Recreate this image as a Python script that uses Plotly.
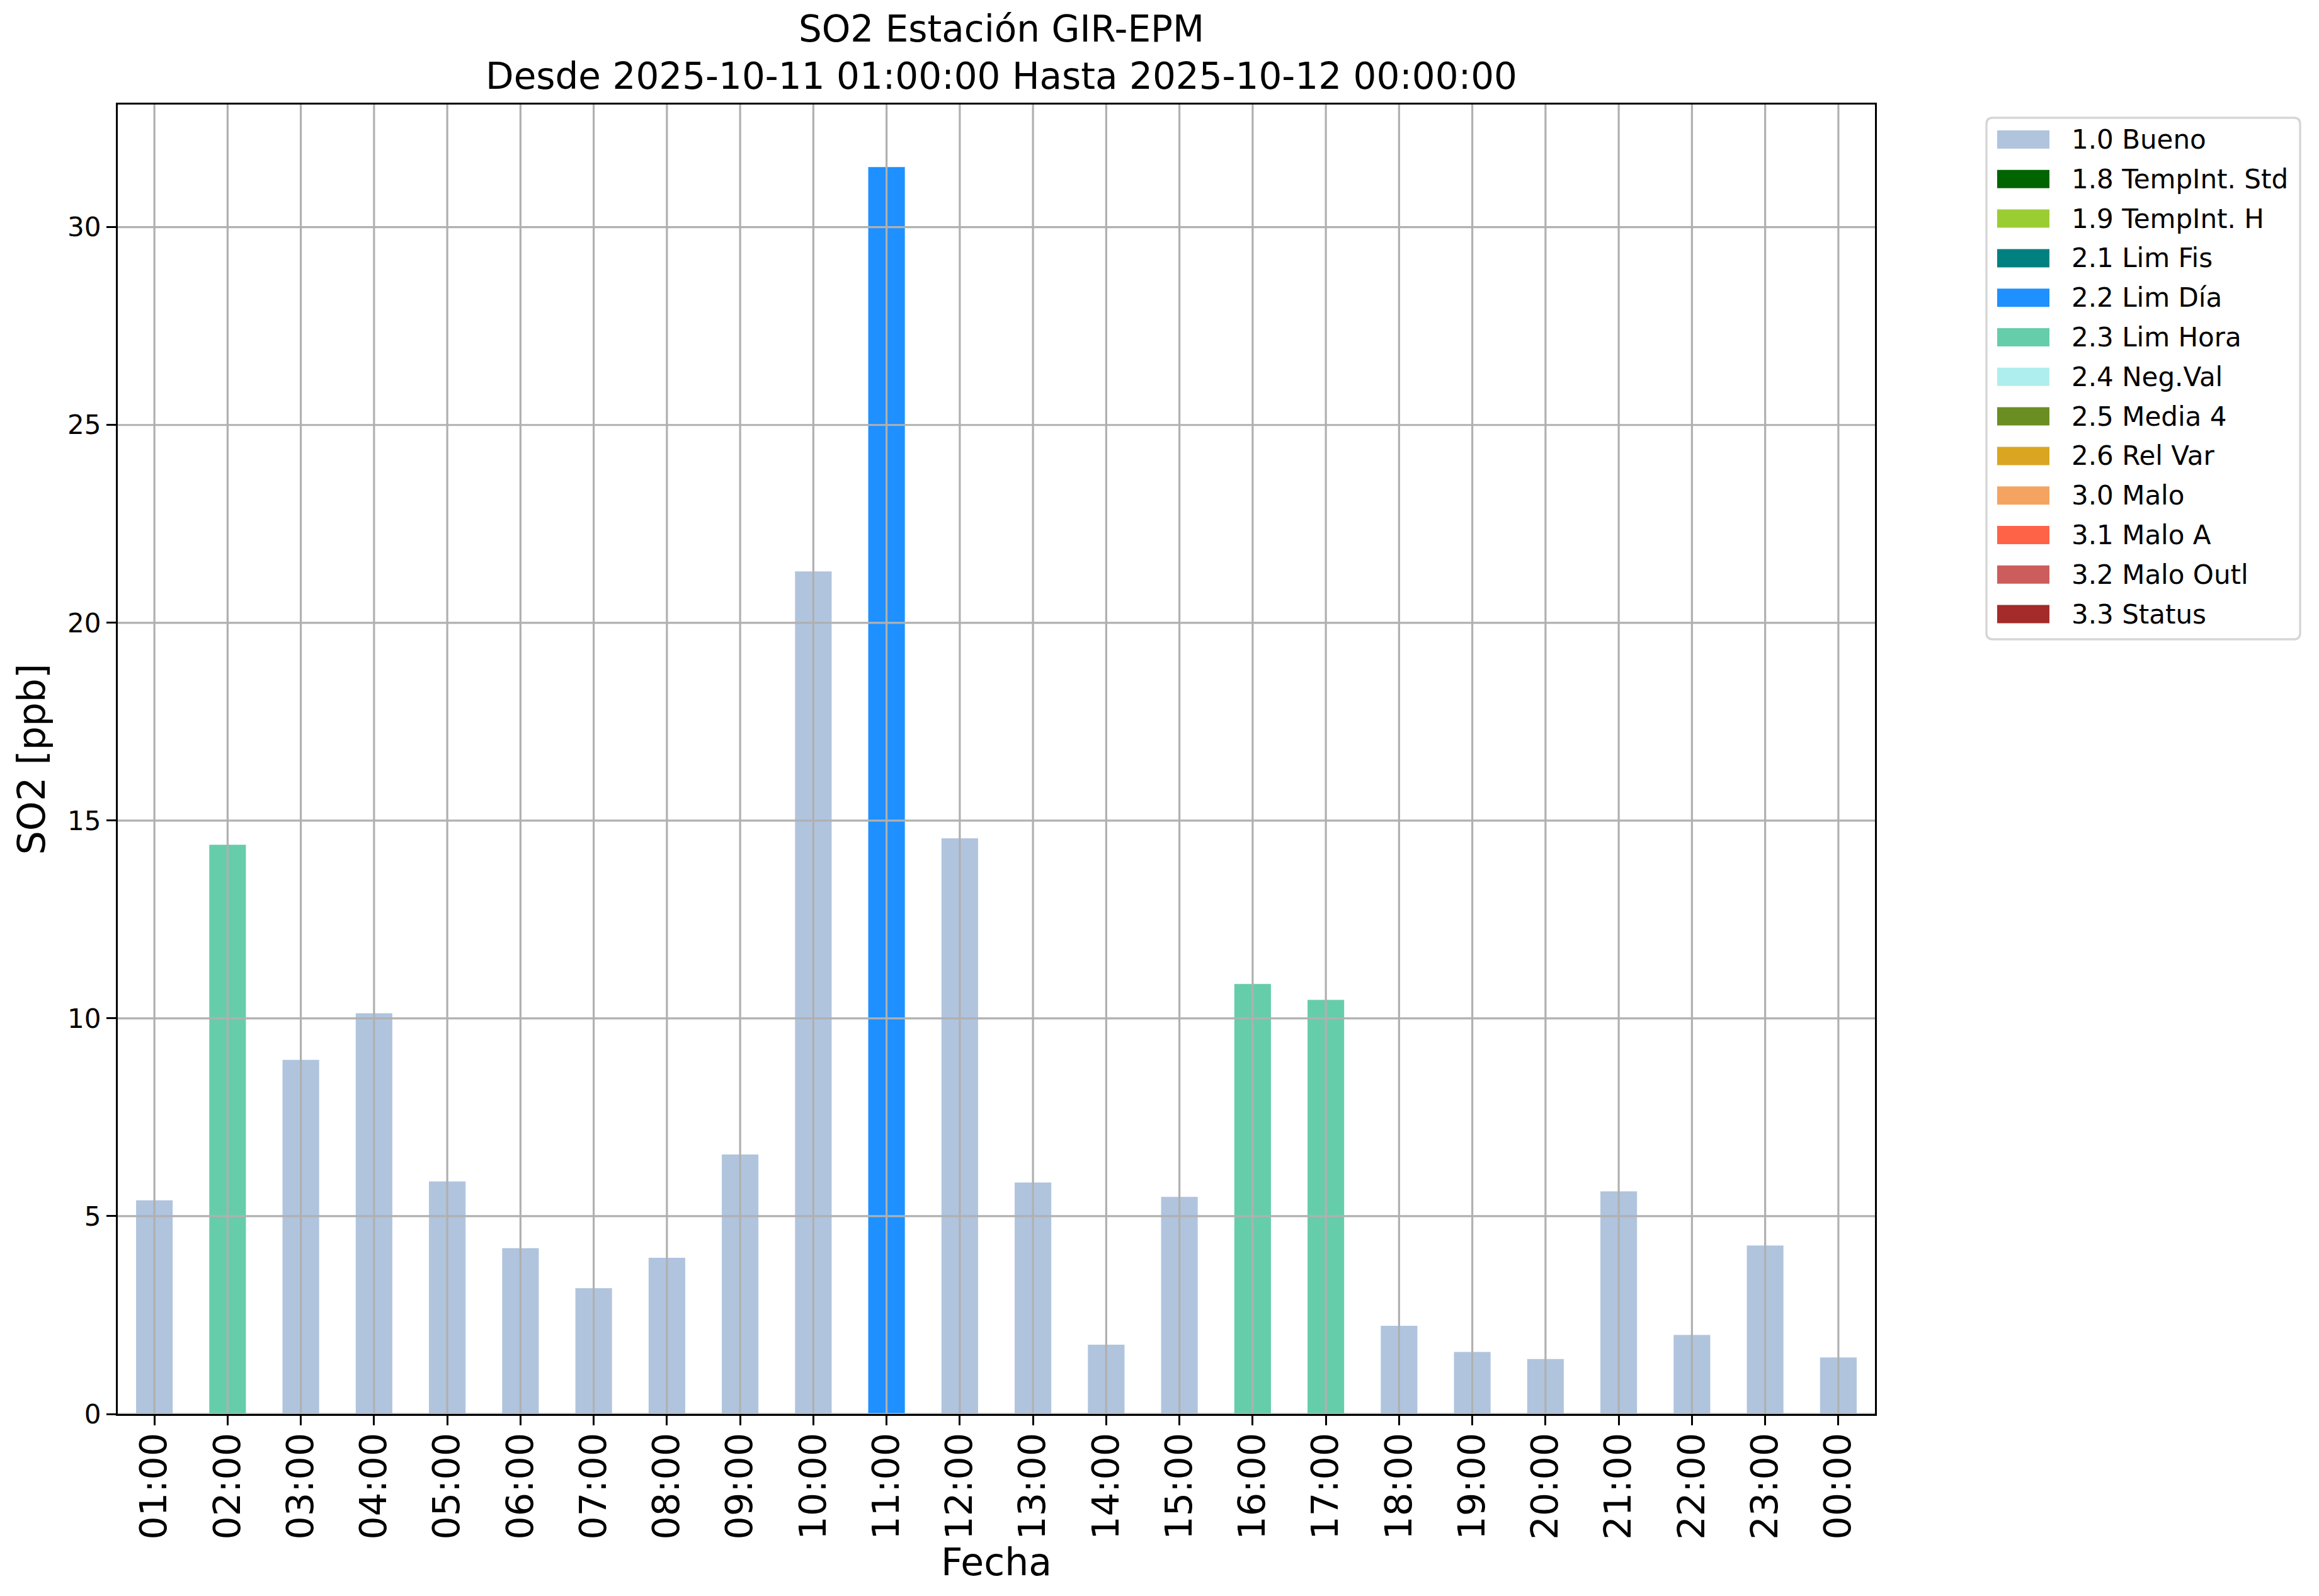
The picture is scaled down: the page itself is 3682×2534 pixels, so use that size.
import plotly.graph_objects as go

# ---------------- data ----------------
hours = ["01:00", "02:00", "03:00", "04:00", "05:00", "06:00", "07:00", "08:00",
         "09:00", "10:00", "11:00", "12:00", "13:00", "14:00", "15:00", "16:00",
         "17:00", "18:00", "19:00", "20:00", "21:00", "22:00", "23:00", "00:00"]
so2_values = [5.40, 14.39, 8.95, 10.13, 5.88, 4.19, 3.18, 3.95,
              6.56, 21.30, 31.52, 14.55, 5.85, 1.75, 5.49, 10.87,
              10.47, 2.23, 1.57, 1.39, 5.63, 2.00, 4.26, 1.43]
flags = ["1.0 Bueno", "2.3 Lim Hora", "1.0 Bueno", "1.0 Bueno", "1.0 Bueno", "1.0 Bueno",
         "1.0 Bueno", "1.0 Bueno", "1.0 Bueno", "1.0 Bueno", "2.2 Lim Día", "1.0 Bueno",
         "1.0 Bueno", "1.0 Bueno", "1.0 Bueno", "2.3 Lim Hora", "2.3 Lim Hora", "1.0 Bueno",
         "1.0 Bueno", "1.0 Bueno", "1.0 Bueno", "1.0 Bueno", "1.0 Bueno", "1.0 Bueno"]
categories = ["1.0 Bueno", "1.8 TempInt. Std", "1.9 TempInt. H", "2.1 Lim Fis", "2.2 Lim Día",
              "2.3 Lim Hora", "2.4 Neg.Val", "2.5 Media 4", "2.6 Rel Var", "3.0 Malo",
              "3.1 Malo A", "3.2 Malo Outl", "3.3 Status"]
category_colors = ["#B0C4DE", "#006400", "#9ACD32", "#008080", "#1E90FF",
                   "#66CDAA", "#AFEEEE", "#6B8E23", "#DAA520", "#F4A460",
                   "#FF6347", "#CD5C5C", "#A52A2A"]
y_ticks = [0, 5, 10, 15, 20, 25, 30]

title_text = "SO2 Estación GIR-EPM<br>Desde 2025-10-11 01:00:00 Hasta 2025-10-12 00:00:00"

# ---------------- layout geometry (pixels, screenshot coordinates) ----------------
W, H = 3682, 2534
OFF = 8  # default page body margin
L, R, T, B = 187, 2977, 166, 2245
FONT = "DejaVu Sans"
color_map = dict(zip(categories, category_colors))


def px_x(px):
    return (px - L) / (R - L)


def px_y(py):
    return (B - py) / (B - T)


fig = go.Figure()
fig.add_trace(go.Bar(
    x=hours, y=so2_values,
    marker=dict(color=[color_map[f] for f in flags], line=dict(width=0)),
    width=0.5, showlegend=False,
    customdata=flags,
    hovertemplate="%{x}<br>%{y:.2f} ppb<br>%{customdata}<extra></extra>",
))

shapes = []
# grid lines drawn above the bars (as in the reference)
grid_style = dict(color="#b0b0b0", width=3.2)
for h in hours:
    shapes.append(dict(type="line", xref="x", yref="y domain", x0=h, x1=h, y0=0, y1=1,
                       line=grid_style, layer="above"))
for t in y_ticks:
    shapes.append(dict(type="line", xref="x domain", yref="y", x0=0, x1=1, y0=t, y1=t,
                       line=grid_style, layer="above"))

# legend box (matplotlib-style, rounded frame)
annotations = []
box_l, box_r, box_t, box_b = 3154, 3652, 187, 1015
rad = 10
x0, x1 = px_x(box_l), px_x(box_r)
y0, y1 = px_y(box_b), px_y(box_t)
rx = rad / (R - L)
ry = rad / (B - T)
frame_path = (f"M{x0 + rx},{y0} L{x1 - rx},{y0} Q{x1},{y0} {x1},{y0 + ry} "
              f"L{x1},{y1 - ry} Q{x1},{y1} {x1 - rx},{y1} "
              f"L{x0 + rx},{y1} Q{x0},{y1} {x0},{y1 - ry} "
              f"L{x0},{y0 + ry} Q{x0},{y0} {x0 + rx},{y0} Z")
shapes.append(dict(type="path", xref="paper", yref="paper", path=frame_path,
                   line=dict(color="#d6d6d6", width=3.4), fillcolor="rgba(255,255,255,0.8)",
                   layer="above"))
row0, row_step = 221.5, 62.8
for i, (cat, col) in enumerate(zip(categories, category_colors)):
    cy = row0 + i * row_step
    shapes.append(dict(type="rect", xref="paper", yref="paper",
                       x0=px_x(3171), x1=px_x(3254), y0=px_y(cy + 14.5), y1=px_y(cy - 14.5),
                       line=dict(width=0), fillcolor=col, layer="above"))
    annotations.append(dict(xref="paper", yref="paper", x=px_x(3287), y=px_y(cy),
                            xanchor="left", yanchor="middle", text=cat, showarrow=False,
                            font=dict(family=FONT, size=42, color="black")))

fig.update_layout(
    width=W, height=H,
    margin=dict(l=L - OFF, r=W - (R - OFF), t=T - OFF, b=H - (B - OFF), autoexpand=False),
    paper_bgcolor="white", plot_bgcolor="white",
    font=dict(family=FONT, color="black"),
    title=dict(text=title_text, x=(L + R) / 2 / W, xanchor="center",
               yref="paper", y=1, yanchor="bottom", pad=dict(b=100),
               font=dict(family=FONT, size=58, color="black")),
    bargap=0.5,
    shapes=shapes, annotations=annotations,
    xaxis=dict(
        type="category", range=[-0.5, len(hours) - 0.5],
        showgrid=False, showline=True, linecolor="black", linewidth=3.2, mirror=True,
        ticks="outside", ticklen=15, tickwidth=3.2, tickcolor="black",
        tickangle=-90, tickfont=dict(family=FONT, size=59, color="black"),
        ticklabelstandoff=-12,
        title=dict(text="Fecha", font=dict(family=FONT, size=60, color="black"), standoff=0),
        zeroline=False, automargin=False,
    ),
    yaxis=dict(
        range=[0, 33.1], tickvals=y_ticks,
        showgrid=False, showline=True, linecolor="black", linewidth=3.2, mirror=True,
        ticks="outside", ticklen=15, tickwidth=3.2, tickcolor="black",
        tickfont=dict(family=FONT, size=42, color="black"),
        title=dict(text="SO2 [ppb]", font=dict(family=FONT, size=60, color="black"), standoff=17),
        zeroline=False, automargin=False,
    ),
)

fig.write_html("out.html")
